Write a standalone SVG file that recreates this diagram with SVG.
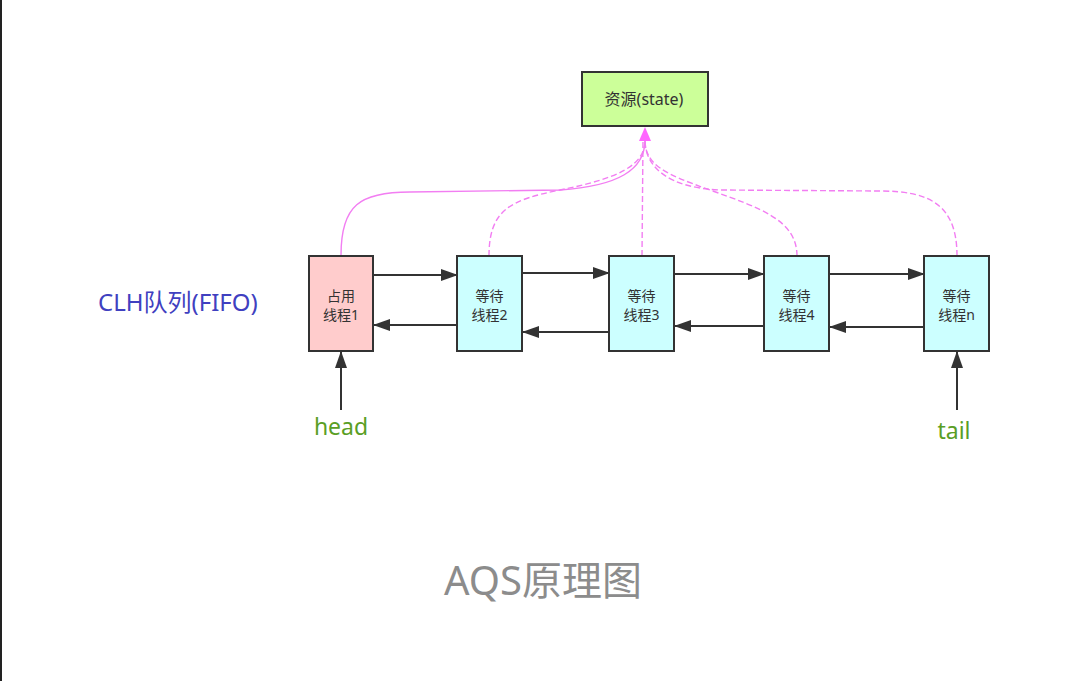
<svg xmlns="http://www.w3.org/2000/svg" width="1080" height="681" viewBox="0 0 1080 681">
<defs>
<marker id="ah" markerUnits="userSpaceOnUse" markerWidth="17" markerHeight="12" refX="16" refY="6" orient="auto">
<path d="M0,0 L17,6 L0,12 Z" fill="#333"/>
</marker>
<style>
.box{stroke:#333;stroke-width:2}
.wait{fill:#ccffff}
.nt{font-family:"Noto Sans","Noto Sans CJK SC",sans-serif;font-size:14px;fill:#333;text-anchor:middle}
.lk{stroke:#333;stroke-width:2;fill:none;marker-end:url(#ah)}
.pk{stroke:#f27ef2;stroke-width:1.4;fill:none}
.dash{stroke-dasharray:6 3}
</style>
</defs>
<rect width="1080" height="681" fill="#fff"/>
<rect x="0" y="0" width="2" height="681" fill="#222"/>

<g id="connectors">
<path class="pk" d="M341,255 C341,205 360,192 410,192 L560,190 C618,186 645,170 645,140"/>
<path class="pk dash" d="M489,256 C489,210 510,200 560,190 C620,178 645,165 645,140"/>
<path class="pk dash" d="M642,256 L643,140"/>
<path class="pk dash" d="M797,256 C797,220 760,208 710,190 C665,174 645,165 645,140"/>
<path class="pk dash" d="M957,256 C957,205 930,191 880,191 L720,190 C670,188 645,168 645,140"/>
<path d="M645,127 L651,141 L639,141 Z" fill="#ff66ff"/>

<line class="lk" x1="373" y1="275" x2="457" y2="275"/>
<line class="lk" x1="522" y1="273" x2="609" y2="273"/>
<line class="lk" x1="674" y1="274" x2="764" y2="274"/>
<line class="lk" x1="829" y1="274" x2="924" y2="274"/>
<line class="lk" x1="457" y1="325" x2="374" y2="325"/>
<line class="lk" x1="609" y1="332" x2="523" y2="332"/>
<line class="lk" x1="764" y1="326" x2="675" y2="326"/>
<line class="lk" x1="924" y1="327" x2="830" y2="327"/>
<line class="lk" x1="341" y1="410" x2="341" y2="352"/>
<line class="lk" x1="957" y1="410" x2="957" y2="352"/>
</g>

<g id="state">
<rect class="box" x="582" y="72" width="126" height="54" fill="#ccff99"/>
<text class="nt" x="644" y="105" font-size="16" style="font-size:16px">资源(state)</text>
</g>
<g id="node1">
<rect class="box" x="309" y="256" width="64" height="95" fill="#ffcccc"/>
<text class="nt" x="341" y="301">占用</text>
<text class="nt" x="341" y="320">线程1</text>
</g>
<g id="node2">
<rect class="box wait" x="457" y="256" width="65" height="95"/>
<text class="nt" x="489.5" y="301">等待</text>
<text class="nt" x="489.5" y="320">线程2</text>
</g>
<g id="node3">
<rect class="box wait" x="609" y="256" width="65" height="95"/>
<text class="nt" x="641.5" y="301">等待</text>
<text class="nt" x="641.5" y="320">线程3</text>
</g>
<g id="node4">
<rect class="box wait" x="764" y="256" width="65" height="95"/>
<text class="nt" x="796.5" y="301">等待</text>
<text class="nt" x="796.5" y="320">线程4</text>
</g>
<g id="noden">
<rect class="box wait" x="924" y="256" width="65" height="95"/>
<text class="nt" x="956.5" y="301">等待</text>
<text class="nt" x="956.5" y="320">线程n</text>
</g>

<g id="labels" font-family="'Noto Sans','Noto Sans CJK SC',sans-serif">
<text x="98" y="311" font-size="24" fill="#4040c0">CLH队列(FIFO)</text>
<text x="341" y="435" font-size="23" fill="#5a9e25" text-anchor="middle">head</text>
<text x="954" y="439" font-size="23" fill="#5a9e25" text-anchor="middle">tail</text>
<text x="543" y="595" font-size="40" fill="#8c8c8c" text-anchor="middle">AQS原理图</text>
</g>
</svg>
